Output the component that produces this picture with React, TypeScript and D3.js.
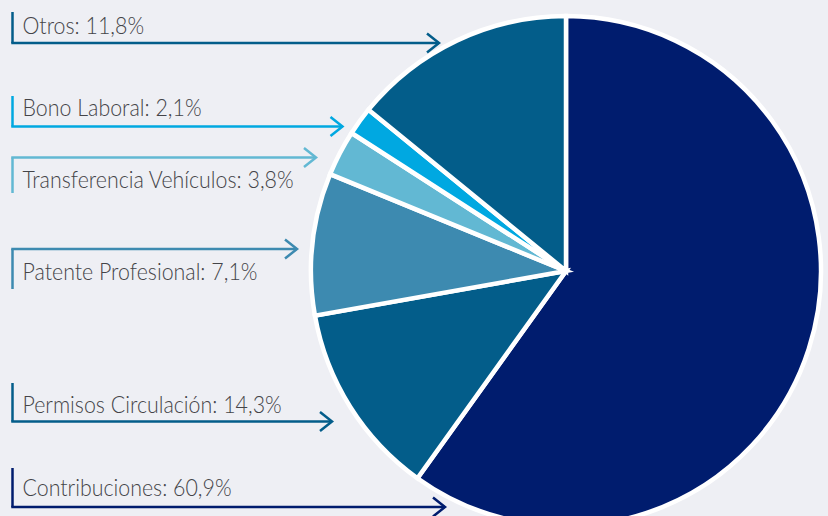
import React, { useEffect } from "react";
import * as d3 from "d3";

// Data
const categories = [
  "Contribuciones",
  "Permisos Circulación",
  "Patente Profesional",
  "Transferencia Vehículos",
  "Bono Laboral",
  "Otros",
];
// percentages printed in the labels
const labelPercents = [60.9, 14.3, 7.1, 3.8, 2.1, 11.8];
// share of the circle each slice occupies in the drawing
const sliceShares = [59.9, 12.3, 9.0, 2.9, 1.8, 14.1];

// Styles / layout (kept apart from the data)
const colors = ["#001c6e", "#035d8a", "#3d8ab0", "#62b8d3", "#00a8e1", "#035d8a"];
const labelLayout = [
  { lineY: 507, barEnd: 468, tipX: 445, baseline: 496 },
  { lineY: 421.5, barEnd: 383, tipX: 332, baseline: 412.5 },
  { lineY: 249, barEnd: 289, tipX: 297, baseline: 279.5 },
  { lineY: 157.5, barEnd: 193, tipX: 316, baseline: 187.5 },
  { lineY: 126.5, barEnd: 96, tipX: 342.5, baseline: 115.5 },
  { lineY: 43, barEnd: 12, tipX: 439, baseline: 33.5 },
];

const W = 828;
const H = 516;
const CX = 566;
const CY = 271;
const R = 255;
const LEFT = 12.5;
const TEXT_X = 22.5;
const TEXT_SCALE = 0.93;

const fmt = (v: number) => v.toFixed(1).replace(".", ",") + "%";

export default function App() {
  useEffect(() => {
    document.body.style.margin = "0";
    document.body.style.background = "#eeeff4";
  }, []);

  const pie = d3
    .pie<number>()
    .sort(null)
    .value((d) => d)
    .startAngle(0)
    .endAngle(2 * Math.PI);
  const arcs = pie(sliceShares);
  const arc = d3.arc<d3.PieArcDatum<number>>().innerRadius(0).outerRadius(R);

  return (
    <svg
      width={W}
      height={H}
      style={{ position: "absolute", left: 0, top: 0, display: "block" }}
    >
      <rect x={0} y={0} width={W} height={H} fill="#eeeff4" />
      <g transform={`translate(${CX},${CY})`}>
        {arcs.map((a, i) => (
          <path
            key={i}
            d={arc(a) || ""}
            fill={colors[i]}
            stroke="#ffffff"
            strokeWidth={4.5}
            strokeLinejoin="miter"
          />
        ))}
      </g>
      {categories.map((c, i) => {
        const L = labelLayout[i];
        const col = colors[i];
        return (
          <g key={c}>
            <line
              x1={LEFT}
              x2={LEFT}
              y1={L.lineY}
              y2={L.barEnd}
              stroke={col}
              strokeWidth={2.5}
            />
            <line
              x1={LEFT - 1.25}
              x2={L.tipX}
              y1={L.lineY}
              y2={L.lineY}
              stroke={col}
              strokeWidth={2.5}
            />
            <path
              d={`M${L.tipX - 12},${L.lineY - 9.5}L${L.tipX},${L.lineY}L${L.tipX - 12},${L.lineY + 9.5}`}
              fill="none"
              stroke={col}
              strokeWidth={2.5}
            />
            <text
              transform={`translate(${TEXT_X},${L.baseline}) scale(${TEXT_SCALE},1)`}
              fontFamily="Lato, 'Open Sans', sans-serif"
              fontWeight={300}
              fontSize={23}
              fill="#444448"
            >
              {`${c}: ${fmt(labelPercents[i])}`}
            </text>
          </g>
        );
      })}
    </svg>
  );
}
